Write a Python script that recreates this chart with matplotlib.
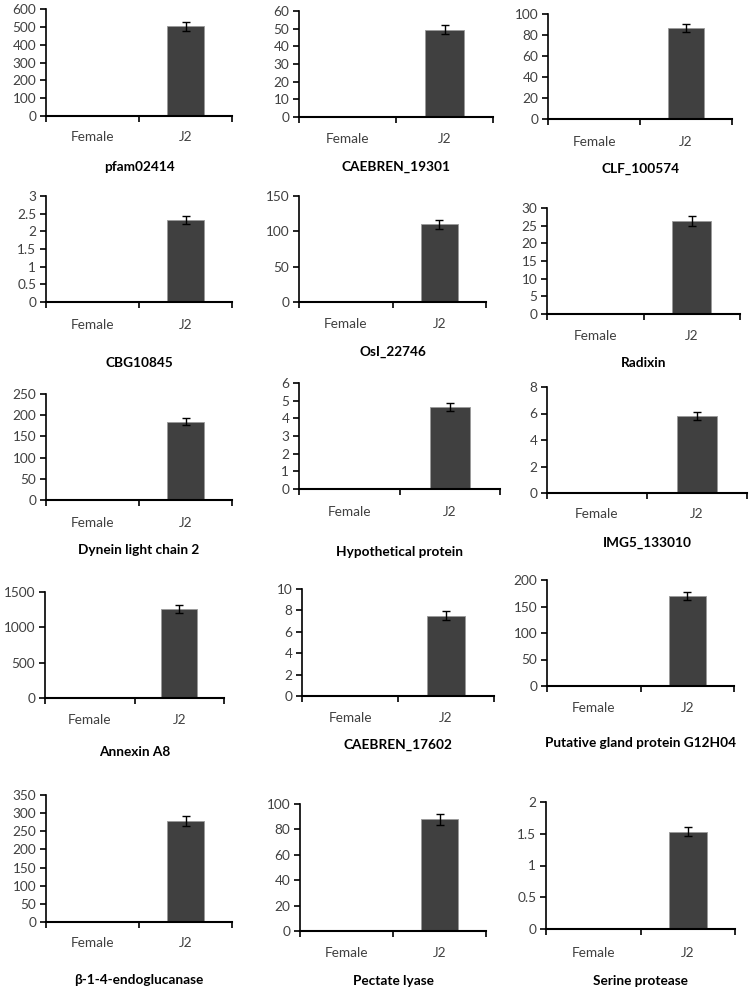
import numpy as np
import matplotlib
matplotlib.use("Agg")
import matplotlib.pyplot as plt

plt.rcParams["font.family"] = ["Lato", "DejaVu Sans"]

groups = ["Female", "J2"]

genes = [
    "pfam02414", "CAEBREN_19301", "CLF_100574",
    "CBG10845", "OsI_22746", "Radixin",
    "Dynein light chain 2", "Hypothetical protein", "IMG5_133010",
    "Annexin A8", "CAEBREN_17602", "Putative gland protein G12H04",
    "\u03b2-1-4-endoglucanase", "Pectate lyase", "Serine protease",
]
female_vals = [0, 0, 0, 0, 0, 0, 0, 0, 0, 0, 0, 0, 0, 0, 0]
j2_vals = [502, 49.3, 86.5, 2.32, 110, 26.2, 185, 4.64, 5.79, 1259, 7.5, 170, 279, 88, 1.53]
j2_err = [27, 2.6, 4, 0.12, 6, 1.4, 9, 0.22, 0.3, 60, 0.4, 8, 14, 4.3, 0.07]
y_max = [600, 60, 100, 3, 150, 30, 250, 6, 8, 1500, 10, 200, 350, 100, 2]
y_step = [100, 10, 20, 0.5, 50, 5, 50, 1, 2, 500, 2, 50, 50, 20, 0.5]

# panel layout in pixels: left, right, top, bottom(zero line), xlabel y, title y
W, H = 753, 992
layout = [
    (46, 232, 9, 116, 137, 167),
    (299, 493, 11, 117, 139, 167),
    (548, 732, 14, 119, 142, 169),
    (46, 232, 196, 302, 325, 363),
    (299, 486, 196, 302, 324, 352),
    (547, 740, 208, 314, 336, 363),
    (46, 232, 394, 500, 523, 550),
    (299, 500, 383, 489, 512, 552),
    (547, 747, 387, 493, 514, 543),
    (45, 224, 592, 698, 720, 752),
    (302, 494, 589, 696, 718, 745),
    (547, 734, 580, 686, 708, 743),
    (46, 232, 795, 922, 943, 980),
    (300, 486, 804, 931, 953, 981),
    (546, 735, 802, 929, 953, 981),
]

bar_color = "#404040"
text_color = "#404040"
fs = 9.8

fig = plt.figure(figsize=(W / 100, H / 100), dpi=100)

for i, name in enumerate(genes):
    x0, x1, yt, yb, ly, ty = layout[i]
    ax = fig.add_axes([x0 / W, 1 - yb / H, (x1 - x0) / W, (yb - yt) / H])
    pos = np.array([0.5, 1.5])
    vals = [female_vals[i], j2_vals[i]]
    ax.bar(pos, vals, width=0.4, color=bar_color, edgecolor="#9a9a9a", linewidth=0.6)
    ax.errorbar(pos[1], j2_vals[i], yerr=j2_err[i], fmt="none", ecolor="black",
                elinewidth=1, capsize=3, capthick=1)
    ax.set_xlim(0, 2)
    ax.set_ylim(0, y_max[i])
    ticks = np.arange(0, y_max[i] + y_step[i] / 2, y_step[i])
    ax.set_yticks(ticks)
    ax.set_yticklabels([f"{t:g}" for t in ticks], color=text_color, fontsize=fs)
    ax.set_xticks([0, 1, 2])
    ax.set_xticklabels([])
    ax.tick_params(axis="x", which="major", length=4, width=1.2, direction="out")
    ax.tick_params(axis="y", length=4, width=1.2, direction="out", pad=3)
    for s in ["top", "right"]:
        ax.spines[s].set_visible(False)
    ax.spines["left"].set_linewidth(1.2)
    ax.spines["bottom"].set_linewidth(1.5)
    ax.patch.set_alpha(0)
    cw = (x1 - x0) / 2
    for k, g in enumerate(groups):
        fig.text((x0 + cw * (k + 0.5)) / W, 1 - ly / H, g, ha="center", va="center",
                 fontsize=fs, color=text_color)
    fig.text((x0 + x1) / 2 / W, 1 - ty / H, name, ha="center", va="center",
             fontsize=fs, fontweight="bold", color="black")

fig.savefig("out.png", dpi=100)
